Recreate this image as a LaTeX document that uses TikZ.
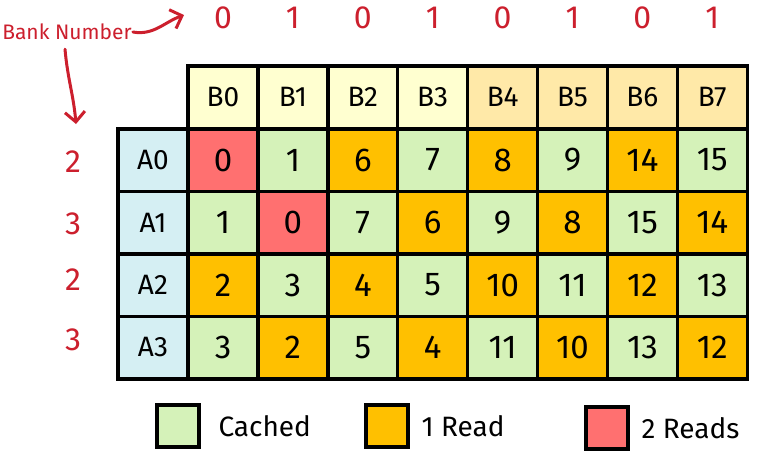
\documentclass[tikz,border=0pt]{standalone}
\usepackage{fontspec}
\setmainfont{Fira Sans}
\usetikzlibrary{arrows.meta,positioning}
\definecolor{cached}{HTML}{D5F2B9}
\definecolor{oneread}{HTML}{FFC000}
\definecolor{tworeads}{HTML}{FF7070}
\definecolor{addrcol}{HTML}{D5EFF3}
\definecolor{banklo}{HTML}{FFFFD0}
\definecolor{bankhi}{HTML}{FFE9A8}
\definecolor{inkred}{HTML}{CC1F2D}
\begin{document}
\begin{tikzpicture}[x=1pt,y=-1pt,
  cell/.style={draw,line width=3.5pt,minimum width=70pt,minimum height=62.5pt,inner sep=0pt,font=\fontsize{33}{33}\selectfont},
  headcell/.style={cell,font=\fontsize{28}{28}\selectfont},
  rednum/.style={text=inkred,font=\fontsize{32}{32}\selectfont},
  redarrow/.style={draw=inkred,line width=3pt,line cap=round,-{Straight Barb[length=10pt,width=20pt,line width=3pt]}},
  legbox/.style={draw,line width=4pt,minimum size=42pt,inner sep=0pt},
  legtext/.style={font=\fontsize{28}{28}\selectfont}]
\useasboundingbox (0,0) rectangle (758,459);

% bank headers
\foreach \c [count=\j from 0] in {banklo,banklo,banklo,banklo,bankhi,bankhi,bankhi,bankhi}
  \node[headcell,fill=\c] (b\j) at (223+69.9*\j,97) {B\j};

% address column
\foreach \y [count=\i from 0] in {160,222.5,285,347.5}
  \node[headcell,fill=addrcol] (a\i) at (153,\y) {A\i};

% cells
\foreach \v/\c [count=\j from 0] in {0/tworeads,1/cached,6/oneread,7/cached,8/oneread,9/cached,14/oneread,15/cached}
  \node[cell,fill=\c] (c0-\j) at (223+69.9*\j,160) {\v};
\foreach \v/\c [count=\j from 0] in {1/cached,0/tworeads,7/cached,6/oneread,9/cached,8/oneread,15/cached,14/oneread}
  \node[cell,fill=\c] (c1-\j) at (223+69.9*\j,222.5) {\v};
\foreach \v/\c [count=\j from 0] in {2/oneread,3/cached,4/oneread,5/cached,10/oneread,11/cached,12/oneread,13/cached}
  \node[cell,fill=\c] (c2-\j) at (223+69.9*\j,285) {\v};
\foreach \v/\c [count=\j from 0] in {3/cached,2/oneread,5/cached,4/oneread,11/cached,10/oneread,13/cached,12/oneread}
  \node[cell,fill=\c] (c3-\j) at (223+69.9*\j,347.5) {\v};

% bank numbers
\foreach \b [count=\j from 0] in {0,1,0,1,0,1,0,1}
  \node[rednum] (n\j) at (223+69.9*\j,18) {\b};
\node[rednum] (r0) at (73,162) {2};
\node[rednum] (r1) at (73,224) {3};
\node[rednum] (r2) at (73,280) {2};
\node[rednum] (r3) at (73,340) {3};

\node[text=inkred,font=\fontsize{21}{21}\selectfont,inner sep=1pt] (bank) at (67,32) {Bank Number};
\coordinate (bankend) at (184,15);
\coordinate (rowend) at (76,124);
\draw[redarrow] (bank.east) to[out=-10,in=200] (bankend);
\draw[redarrow] ([xshift=-2pt,yshift=-8pt]bank.south) to[out=-85,in=95] (rowend);

% legend
\node[legbox,fill=cached] (lc) at (178,426) {};
\node[legtext,right=14pt of lc] (lct) {Cached};
\node[legbox,fill=oneread] (lo) at (387,426) {};
\node[legtext,right=8pt of lo] (lot) {1 Read};
\node[legbox,fill=tworeads] (lt) at (607,428) {};
\node[legtext,right=8pt of lt] (ltt) {2 Reads};
\end{tikzpicture}
\end{document}
